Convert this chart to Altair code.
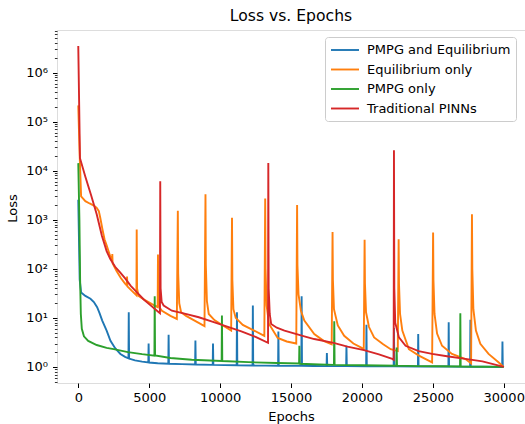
import altair as alt
import pandas as pd

SERIES = ["PMPG and Equilibrium", "Equilibrium only", "PMPG only", "Traditional PINNs"]
COLORS = ["#1f77b4", "#ff7f0e", "#2ca02c", "#d62728"]

# PMPG and Equilibrium (blue)
blue_epoch = [0, 100, 200, 500, 860, 1100, 1330, 1500, 1690, 2000, 2270, 2600, 2970, 3300, 3540, 3560, 3585,
              4000, 4500, 4940, 4960, 4985, 5600, 6350, 6370, 6395, 7300, 8240, 8260, 8285, 9480, 9500, 9525,
              10300, 11170, 11190, 11215, 12290, 12310, 12335, 13200, 14090, 14110, 14135, 15730, 15750, 15775,
              16600, 17510, 17530, 17555, 18890, 18910, 18935, 20300, 20320, 20345, 21300, 22240, 22260, 22285,
              23950, 23970, 23995, 25000, 26100, 26120, 26145, 27630, 27650, 27675, 28800, 29890, 29910, 29935, 30000]
blue_loss = [2570, 60, 33, 28, 24.5, 21, 16.5, 12.5, 8.8, 5.5, 3.4, 2.4, 1.84, 1.6, 1.5, 13, 1.48,
             1.36, 1.28, 1.24, 3.0, 1.23, 1.19, 1.16, 4.5, 1.16, 1.14, 1.12, 3.45, 1.12, 1.1, 3.0, 1.1,
             1.09, 1.08, 13, 1.08, 1.07, 17.8, 1.07, 1.065, 1.06, 5.3, 1.06, 1.05, 27.6, 1.05,
             1.045, 1.04, 1.93, 1.04, 1.04, 2.7, 1.04, 1.03, 7.2, 1.03, 1.03, 1.03, 6.2, 1.03,
             1.02, 4.7, 1.02, 1.02, 1.02, 8.1, 1.02, 1.01, 9.2, 1.01, 1.01, 1.0, 3.3, 1.0, 1.0]

# Equilibrium only (orange)
orange_epoch = [0, 100, 200, 500, 800, 1100, 1300, 1450, 1550, 1700, 1850, 2000, 2200, 2380, 2400, 2420,
                2700, 3000, 3300, 3420, 3440, 3460, 3800, 4100, 4120, 4145, 4250, 4700, 5200, 5600, 5620, 5645,
                5750, 5900, 6500, 6950, 7020, 7045, 7120, 7250, 7600, 8300, 8900, 8970, 8995, 9070, 9200, 9600,
                10200, 10780, 10840, 10865, 10940, 11100, 11600, 12400, 13120, 13180, 13205, 13280, 13450, 14060,
                14700, 15370, 15430, 15455, 15530, 15700, 15940, 16640, 17300, 17870, 17930, 17955, 18030, 18300,
                18750, 19400, 19920, 20130, 20190, 20215, 20290, 20500, 20860, 21500, 22030, 22530, 22590, 22615,
                22690, 22850, 23310, 24020, 24950, 25020, 25045, 25120, 25300, 25650, 26350, 27300, 27700, 27760,
                27785, 27860, 28040, 28350, 28930, 29630, 30000]
orange_loss = [215000, 20000, 3000, 2400, 2150, 1950, 1750, 1500, 1100, 650, 400, 300, 200, 140, 200, 130,
               90, 65, 50, 46, 70, 44, 35, 29, 630, 40, 28, 23, 19, 16.5, 195, 25,
               16, 14, 11, 9.5, 1520, 80, 20, 13, 11, 8.5, 6.8, 3300, 120, 22, 12, 9,
               7, 5.5, 1100, 60, 15, 10, 7.2, 5.5, 4.3, 2700, 100, 18, 7.5, 3.9,
               3.3, 3.0, 2000, 120, 30, 14, 8.8, 4.7, 3.4, 2.9, 560, 60, 15, 7,
               4.3, 3.0, 2.5, 2.3, 390, 50, 13, 6.5, 4.0, 2.9, 2.3, 2.1, 400, 50,
               12, 5.5, 2.3, 1.7, 1.24, 550, 60, 12, 4.8, 2.7, 1.84, 1.45, 1.18, 1290,
               100, 15, 5.5, 2.95, 1.84, 1.24, 1.0]

# PMPG only (green)
green_epoch = [0, 80, 130, 180, 250, 400, 700, 1300, 2000, 2500, 3500, 4500, 5370, 5390, 5415, 6500, 8000,
               10110, 10130, 10155, 12000, 14000, 15570, 15590, 15615, 17000, 18030, 18050, 18075, 20000,
               22430, 22450, 22475, 24000, 25500, 26920, 26940, 26965, 28500, 30000]
green_loss = [14300, 1000, 60, 12, 6, 4.2, 3.4, 2.8, 2.45, 2.3, 2.0, 1.82, 1.7, 27.6, 1.72, 1.52, 1.4,
              1.32, 11.2, 1.32, 1.25, 1.2, 1.17, 2.7, 1.16, 1.12, 1.1, 8.5, 1.1, 1.08,
              1.06, 2.5, 1.06, 1.04, 1.03, 1.02, 12.4, 1.02, 1.01, 1.0]

# Traditional PINNs (red)
red_epoch = [0, 120, 500, 900, 1300, 1660, 2000, 2250, 2600, 2950, 3320, 3700, 4140, 4600, 5100, 5550, 5760,
             5780, 5805, 5880, 6020, 6600, 7500, 8500, 9500, 10500, 11500, 12500, 13380, 13400, 13425, 13500,
             13600, 14000, 14540, 15940, 16640, 18000, 18980, 20150, 21200, 22140, 22240, 22260, 22285, 22350,
             22610, 23080, 24000, 24950, 26000, 27300, 28500, 30000]
red_loss = [3.5e6, 18000, 7500, 3200, 1300, 480, 230, 160, 110, 85, 63, 45, 33, 24, 18, 14, 12.4,
            6100, 40, 21, 17.8, 14, 12.2, 10.3, 8.3, 6.6, 5.3, 4.1, 3.1, 14300, 40, 12,
            7.5, 6.3, 5.5, 4.2, 3.7, 3.1, 2.6, 2.2, 1.8, 1.46, 1.4, 26000, 40, 8,
            4, 2.7, 2.1, 1.84, 1.65, 1.46, 1.3, 1.0]

X_TICKS = [0, 5000, 10000, 15000, 20000, 25000, 30000]
Y_MAJOR = [1, 10, 100, 1000, 10000, 100000, 1000000]
Y_MINOR = [k * 10.0 ** d for d in range(-1, 7) for k in range(2, 10) if 0.47 <= k * 10.0 ** d <= 7.4e6]

rows = []
for name, eps, losses in zip(SERIES, [blue_epoch, orange_epoch, green_epoch, red_epoch],
                             [blue_loss, orange_loss, green_loss, red_loss]):
    for e, l in zip(eps, losses):
        rows.append({"epoch": e, "loss": l, "series": name})
df = pd.DataFrame(rows)

FONT = "DejaVu Sans"
x_scale = alt.Scale(domain=[-1500, 31500], nice=False, zero=False)
y_scale = alt.Scale(type="log", domain=[0.47, 7.4e6], nice=False)

x_axis = alt.Axis(values=X_TICKS, format="d", title="Epochs", grid=False, domain=False,
                  tickSize=4.5, tickColor="black", tickWidth=1, labelPadding=4,
                  labelFont=FONT, labelFontSize=13, labelColor="black",
                  titleFont=FONT, titleFontSize=13, titleFontWeight="normal", titleColor="black",
                  titleY=37, titleBaseline="alphabetic")

y_axis = alt.Axis(values=Y_MAJOR, orient="left", title="Loss", grid=False, domain=False,
                  tickSize=4.5, tickColor="black", tickWidth=1, labelPadding=5,
                  labelExpr="'10' + ['⁰','¹','²','³','⁴','⁵','⁶'][round(log(datum.value)/LN10)]",
                  labelFont=FONT, labelFontSize=13, labelColor="black",
                  titleFont=FONT, titleFontSize=13, titleFontWeight="normal", titleColor="black",
                  titleX=-41, titleY=178, titleAngle=270, titleAlign="center", titleBaseline="alphabetic")

y_minor_axis = alt.Axis(values=Y_MINOR, orient="left", title=None, grid=False, domain=False,
                        labels=False, tickSize=2.6, tickColor="black", tickWidth=0.8)

color = alt.Color("series:N", scale=alt.Scale(domain=SERIES, range=COLORS), sort=SERIES,
                  legend=alt.Legend(orient="none", legendX=268, legendY=7, title=None,
                                    symbolType="M-1,0H3", symbolSize=196, symbolStrokeWidth=1.9,
                                    labelFont=FONT, labelFontSize=13, labelColor="black",
                                    labelOffset=21, rowPadding=4.5, padding=5,
                                    strokeColor="#cccccc", fillColor="rgba(255,255,255,0.8)",
                                    cornerRadius=3))

line_layers = []
for name in SERIES:
    line_layers.append(
        alt.Chart(df).transform_filter(alt.datum.series == name).mark_line(strokeWidth=1.9, clip=True).encode(
            x=alt.X("epoch:Q", scale=x_scale, axis=x_axis),
            y=alt.Y("loss:Q", scale=y_scale, axis=y_axis),
            color=color,
        )
    )
lines = alt.layer(*line_layers)

minor = alt.Chart(df).mark_point(opacity=0, size=1).encode(
    x=alt.X("epoch:Q", scale=x_scale, axis=x_axis),
    y=alt.Y("loss:Q", scale=y_scale, axis=y_minor_axis),
)

chart = alt.layer(lines, minor).resolve_axis(y="independent").properties(
    width=468, height=353,
    padding={"left": 57, "top": 30, "right": 0, "bottom": 41},
    autosize=alt.AutoSizeParams(type="none"),
    title=alt.Title("Loss vs. Epochs", font=FONT, fontSize=15.6, fontWeight="normal", color="black",
                    anchor="middle", offset=5, frame="group"),
).configure_view(stroke="black", strokeWidth=1).configure(font=FONT)

chart.save("out.html", embed_options={"renderer": "svg", "actions": False})
